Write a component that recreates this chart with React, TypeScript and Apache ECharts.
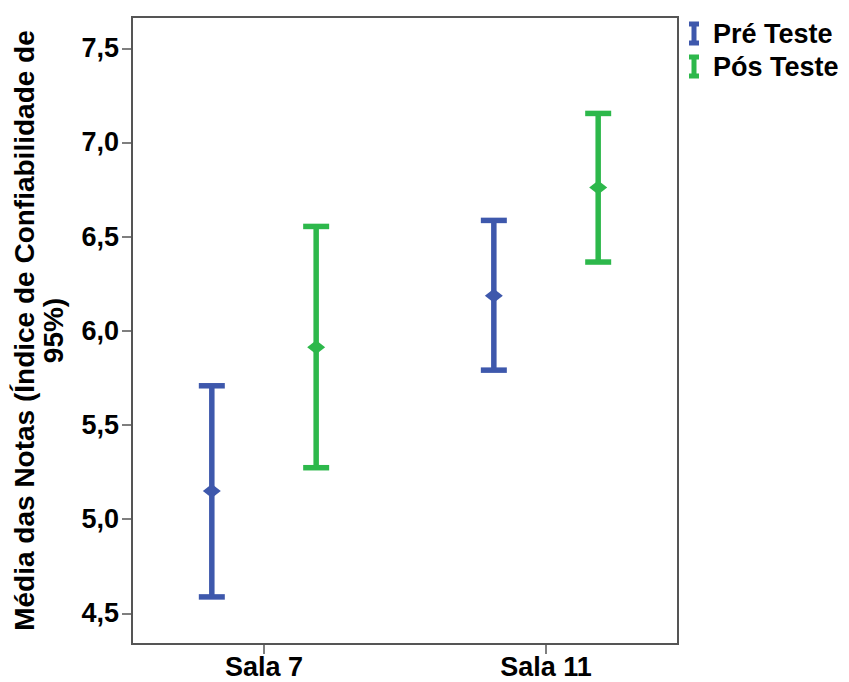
import React, { useEffect, useRef } from "react";
import * as echarts from "echarts";

const categories = ["Sala 7", "Sala 11"];
const yTicks = [4.5, 5.0, 5.5, 6.0, 6.5, 7.0, 7.5];
const seriesNames = ["Pré Teste", "Pós Teste"];
const preMean = [5.149, 6.186];
const preLow = [4.587, 5.791];
const preHigh = [5.708, 6.586];
const posMean = [5.913, 6.761];
const posLow = [5.273, 6.365];
const posHigh = [6.554, 7.154];

const BLUE = "#3E58AC";
const GREEN = "#2DB84B";
const FONT = "'Liberation Sans', Arial, sans-serif";
const OFFSET = 0.185;

const ibeam = "path://M0,0 H10 V5 H7.5 V19 H10 V24 H0 V19 H2.5 V5 H0 Z";

function makeRender(color: string) {
  return (params: any, api: any) => {
    const x = api.value(0);
    const low = api.value(1);
    const high = api.value(2);
    const mean = api.value(3);
    const t = api.coord([x, high]);
    const b = api.coord([x, low]);
    const m = api.coord([x, mean]);
    const lw = 5.5;
    const cw = 13;
    const stroke = { stroke: color, lineWidth: lw, lineCap: "butt" };
    return {
      type: "group",
      children: [
        { type: "line", shape: { x1: t[0], y1: t[1], x2: b[0], y2: b[1] }, style: stroke },
        { type: "line", shape: { x1: t[0] - cw, y1: t[1], x2: t[0] + cw, y2: t[1] }, style: stroke },
        { type: "line", shape: { x1: b[0] - cw, y1: b[1], x2: b[0] + cw, y2: b[1] }, style: stroke },
        {
          type: "polygon",
          shape: {
            points: [
              [m[0], m[1] - 7],
              [m[0] + 9, m[1]],
              [m[0], m[1] + 7],
              [m[0] - 9, m[1]],
            ],
          },
          style: { fill: color },
        },
      ],
    };
  };
}

export default function App() {
  const ref = useRef<HTMLDivElement>(null);
  useEffect(() => {
    document.body.style.margin = "0";
    if (!ref.current) return;
    const chart = echarts.init(ref.current, undefined, { renderer: "svg" });
    const preData = categories.map((_, i) => [i + 1 - OFFSET, preLow[i], preHigh[i], preMean[i]]);
    const posData = categories.map((_, i) => [i + 1 + OFFSET, posLow[i], posHigh[i], posMean[i]]);
    chart.setOption({
      animation: false,
      backgroundColor: "#ffffff",
      grid: {
        left: 132,
        right: 171,
        top: 17,
        bottom: 38,
        show: true,
        borderColor: "#555555",
        borderWidth: 2,
        backgroundColor: "transparent",
      },
      legend: {
        orient: "vertical",
        left: 684,
        top: 15,
        itemWidth: 10,
        itemHeight: 24,
        itemGap: 6,
        data: [
          { name: seriesNames[0], icon: ibeam, itemStyle: { color: BLUE } },
          { name: seriesNames[1], icon: ibeam, itemStyle: { color: GREEN } },
        ],
        textStyle: {
          fontFamily: FONT,
          fontWeight: "bold",
          fontSize: 27,
          color: "#000",
          padding: [0, 0, 0, 9],
        },
      },
      xAxis: {
        type: "value",
        min: 0.532,
        max: 2.468,
        splitLine: { show: false },
        axisLine: { show: true, lineStyle: { color: "#555555", width: 2 } },
        axisTick: { show: true, length: 10, customValues: [1, 2], lineStyle: { color: "#555555", width: 1.5 } },
        axisLabel: {
          customValues: [1, 2],
          formatter: (v: number) => categories[Math.round(v) - 1] ?? "",
          fontFamily: FONT,
          fontWeight: "bold",
          fontSize: 27,
          color: "#000",
          margin: 9,
        },
      },
      yAxis: {
        type: "value",
        min: 4.337,
        max: 7.666,
        name: "Média das Notas (Índice de Confiabilidade de\n95%)",
        nameLocation: "middle",
        nameRotate: 90,
        nameGap: 64,
        nameTextStyle: {
          fontFamily: FONT,
          fontWeight: "bold",
          fontSize: 28,
          color: "#000",
          lineHeight: 29,
          align: "center",
        },
        splitLine: { show: false },
        axisLine: { show: true, lineStyle: { color: "#555555", width: 2 } },
        axisTick: { show: true, length: 10, customValues: yTicks, lineStyle: { color: "#555555", width: 1.5 } },
        axisLabel: {
          customValues: yTicks,
          formatter: (v: number) => v.toFixed(1).replace(".", ","),
          fontFamily: FONT,
          fontWeight: "bold",
          fontSize: 27,
          color: "#000",
          margin: 13,
        },
      },
      series: [
        {
          name: seriesNames[0],
          type: "custom",
          itemStyle: { color: BLUE },
          renderItem: makeRender(BLUE),
          encode: { x: 0, y: [1, 2, 3] },
          data: preData,
        },
        {
          name: seriesNames[1],
          type: "custom",
          itemStyle: { color: GREEN },
          renderItem: makeRender(GREEN),
          encode: { x: 0, y: [1, 2, 3] },
          data: posData,
        },
      ],
    });
    return () => chart.dispose();
  }, []);
  return <div ref={ref} style={{ width: 849, height: 682 }} />;
}
